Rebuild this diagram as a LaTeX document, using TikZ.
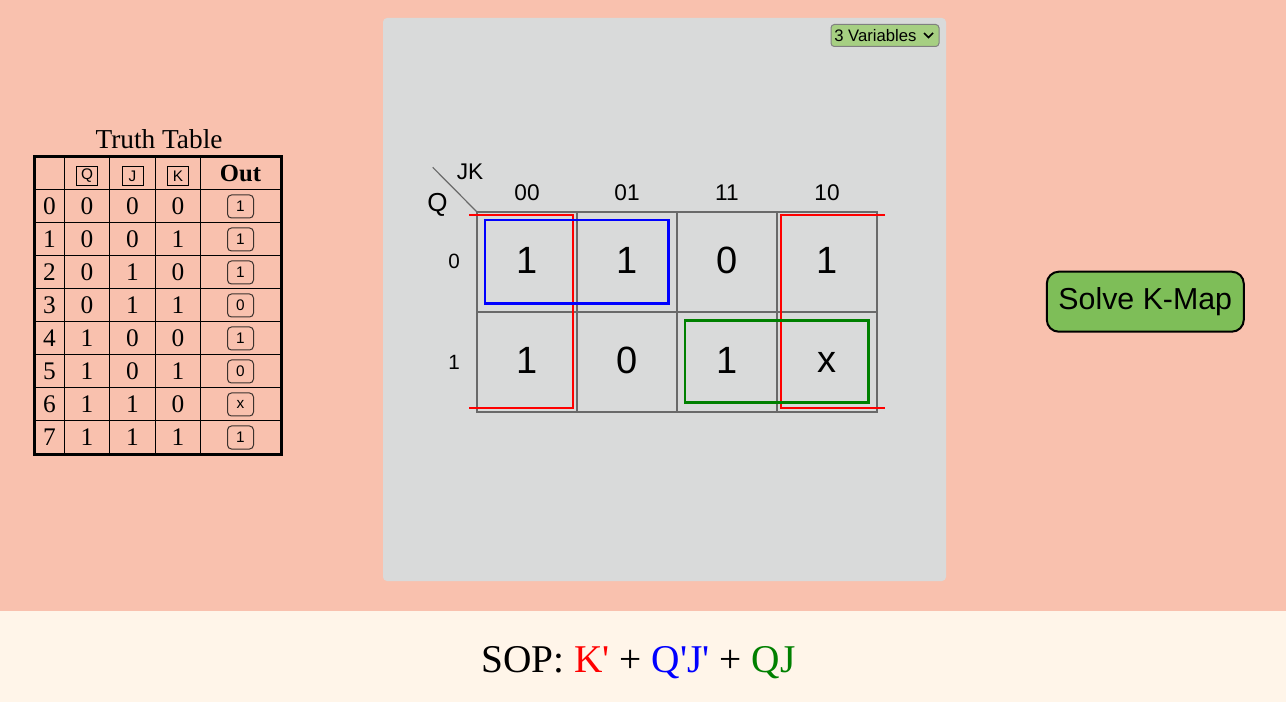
\documentclass[tikz,border=0pt]{standalone}
\usepackage{fontspec}
\setmainfont{Liberation Serif}[Ligatures=TeXOff]
\setsansfont{Liberation Sans}
\definecolor{bgsalmon}{RGB}{249,193,174}
\definecolor{cream}{RGB}{255,245,233}
\definecolor{panel}{RGB}{217,218,218}
\definecolor{btngreen}{RGB}{126,190,88}
\definecolor{ddgreen}{RGB}{166,207,130}
\definecolor{gridgray}{RGB}{105,105,105}
\definecolor{kgreen}{RGB}{0,128,0}
\definecolor{boxgray}{RGB}{60,50,45}
\tikzset{
  ttitle/.style={inner sep=0pt, font=\fontsize{20.5}{23}\selectfont},
  ttcell/.style={inner sep=0pt, font=\fontsize{19}{21}\selectfont},
  hdrbox/.style={draw=black, line width=0.75pt, minimum width=15.75pt, minimum height=14.25pt, inner sep=0pt, font=\sffamily\fontsize{11.5}{13}\selectfont},
  outbox/.style={draw=boxgray, line width=0.75pt, rounded corners=3pt, minimum width=19.5pt, minimum height=17.25pt, inner sep=0pt, font=\sffamily\fontsize{11.5}{13}\selectfont},
  kval/.style={inner sep=0pt, font=\sffamily\fontsize{28.5}{31}\selectfont},
  khdr/.style={inner sep=0pt, font=\sffamily\fontsize{17}{19}\selectfont},
  krow/.style={inner sep=0pt, font=\sffamily\fontsize{15.5}{17}\selectfont},
  kgrid/.style={draw=gridgray, line width=1.6pt},
  grp/.style={line width=1.8pt},
}
\begin{document}
\begin{tikzpicture}[x=0.75pt,y=-0.75pt]
\useasboundingbox (0,0) rectangle (1286,702);
\fill[bgsalmon] (0,0) rectangle (1286,611);
\fill[cream] (0,611) rectangle (1286,702);
\fill[panel, rounded corners=3pt] (383,18) rectangle (946,581);

% ---------- Truth table ----------
\node[ttitle] (tt) at (159,139) {Truth Table};
\foreach \x in {64.5,109.5,155.5,200.5}
  \draw[line width=0.75pt] (\x,156.5) -- (\x,454);
\foreach \y in {189.5,222.5,255.5,288.5,321.5,354.5,387.5,420.5}
  \draw[line width=0.75pt] (34,\y) -- (281,\y);
\draw[line width=2.25pt] (34,156.5) rectangle (281,454);
\node[hdrbox] (hq) at (87,176) {Q};
\node[hdrbox] (hj) at (132.5,176) {J};
\node[hdrbox] (hk) at (178,176) {K};
\node[inner sep=0pt, font=\bfseries\fontsize{18.5}{20}\selectfont] (hout) at (240.5,173) {Out};
\foreach \i/\q/\j/\k/\o in {0/0/0/0/1,1/0/0/1/1,2/0/1/0/1,3/0/1/1/0,4/1/0/0/1,5/1/0/1/0,6/1/1/0/x,7/1/1/1/1}{
  \node[ttcell] (ri\i) at (49.5,{206+33*\i}) {\i};
  \node[ttcell] (rq\i) at (87,{206+33*\i}) {\q};
  \node[ttcell] (rj\i) at (132.5,{206+33*\i}) {\j};
  \node[ttcell] (rk\i) at (178,{206+33*\i}) {\k};
  \node[outbox] (ro\i) at (240.5,{206.5+33*\i}) {\o};
}

% ---------- Dropdown ----------
\node[draw=gray, fill=ddgreen, rounded corners=2.5pt, line width=0.75pt, minimum width=81pt, minimum height=16.5pt, inner sep=0pt] (dd) at (885,35.5) {};
\node[anchor=west, inner sep=0pt, font=\sffamily\fontsize{12.5}{14}\selectfont] (ddtext) at (834,35.5) {3 Variables};
\draw[line width=1.3pt] (924,33) -- (928.5,37.5) -- (933,33);

% ---------- K-map ----------
\draw[gridgray, line width=0.9pt] (432.7,167.3) -- (476.7,211.7);
\node[inner sep=0pt, font=\sffamily\fontsize{17}{19}\selectfont] (jk) at (470,171.5) {JK};
\node[inner sep=0pt, font=\sffamily\fontsize{19.5}{21}\selectfont] (qlab) at (437.5,205) {Q};
\node[khdr] (h00) at (527,193) {00};
\node[khdr] (h01) at (627,193) {01};
\node[khdr] (h11) at (727,193) {11};
\node[khdr] (h10) at (827,193) {10};
\node[krow] (r0) at (454,261) {0};
\node[krow] (r1) at (454,362) {1};
\draw[kgrid] (477,212) rectangle (877,412);
\foreach \x in {577,677,777} \draw[kgrid] (\x,212) -- (\x,412);
\draw[kgrid] (477,312) -- (877,312);
\node[kval] (c00) at (527,260) {1};
\node[kval] (c01) at (627,260) {1};
\node[kval] (c11) at (727,260) {0};
\node[kval] (c10) at (827,260) {1};
\node[kval] (d00) at (527,360) {1};
\node[kval] (d01) at (627,360) {0};
\node[kval] (d11) at (727,360) {1};
\node[kval] (d10) at (827,362) {x};
% groups
\draw[grp, red] (469,215) -- (573,215) -- (573,408) -- (469,408);
\draw[grp, red] (885,215) -- (781,215) -- (781,408) -- (885,408);
\draw[grp, blue] (485,220) rectangle (668.5,303.5);
\draw[grp, kgreen] (685,320.5) rectangle (868.5,402.5);

% ---------- Button ----------
\node[draw=black, fill=btngreen, line width=1.5pt, rounded corners=9pt, minimum width=147.75pt, minimum height=45pt, inner sep=0pt, font=\sffamily\fontsize{22.75}{25}\selectfont] (solve) at (1145.3,301.7) {Solve K-Map};

% ---------- SOP ----------
\node[anchor=base, inner sep=0pt, font=\fontsize{29.5}{32}\selectfont] (sop) at (638.5,672.5) {SOP: \textcolor{red}{K'} + \textcolor{blue}{Q'J'} + \textcolor{kgreen}{QJ}};
\end{tikzpicture}
\end{document}
